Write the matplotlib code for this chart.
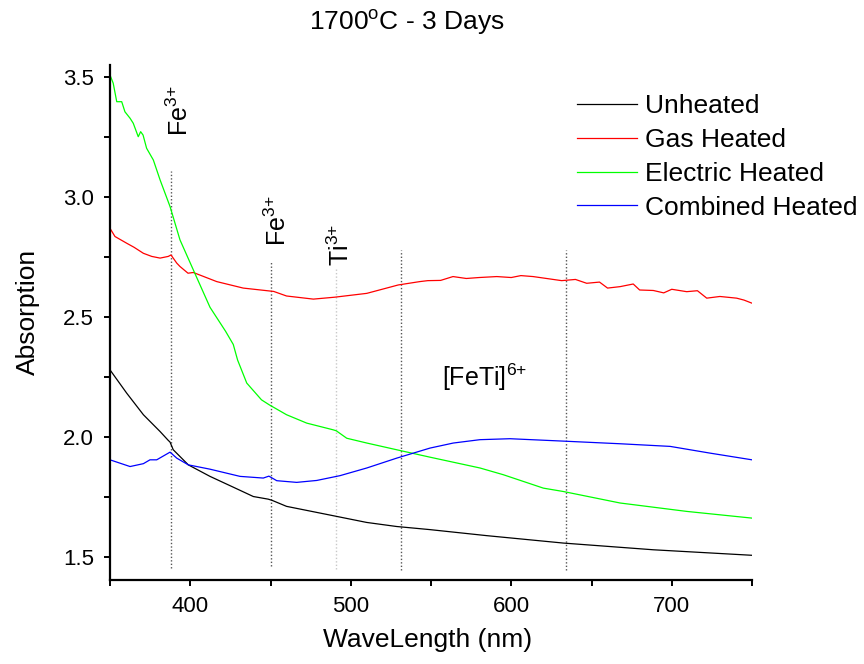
import matplotlib
matplotlib.use("Agg")
import matplotlib.pyplot as plt
from matplotlib.ticker import MultipleLocator

plt.rcParams['font.family'] = ['Liberation Sans', 'DejaVu Sans']
plt.rcParams['mathtext.fontset'] = 'custom'
plt.rcParams['mathtext.rm'] = 'Liberation Sans'
plt.rcParams['mathtext.it'] = 'Liberation Sans'

# Absorption spectra (wavelength in nm, absorption)
unheated_wl = [350, 360.4, 370.8, 381.2, 386.3, 387.4, 389.4, 398.8, 412.3, 426.8,
               439.3, 448.6, 451, 460, 489.1, 509.9, 528.6, 549.4, 584.6, 632.4,
               688.5, 750]
unheated_abs = [2.279, 2.182, 2.092, 2.022, 1.985, 1.978, 1.946, 1.883, 1.835, 1.79,
                1.751, 1.74, 1.735, 1.71, 1.671, 1.643, 1.626, 1.613, 1.588, 1.557,
                1.529, 1.506]

gas_wl = [350, 353.1, 360.4, 365, 370.8, 376, 381.2, 386.3, 388, 391.6, 393.6,
          398.6, 401.9, 416.5, 433, 449.3, 452, 460, 476.7, 490, 510, 529.6,
          543, 548, 556, 563.7, 572, 580, 591, 600, 606, 613.6, 622, 631.4,
          640, 647, 655, 660, 667.8, 676, 680, 688.5, 695, 700, 709.3, 716,
          721.8, 730, 740.4, 745, 750]
gas_abs = [2.869, 2.835, 2.807, 2.79, 2.765, 2.752, 2.745, 2.752, 2.758, 2.724, 2.71,
           2.682, 2.685, 2.647, 2.62, 2.608, 2.606, 2.587, 2.574, 2.582, 2.598, 2.633,
           2.647, 2.651, 2.652, 2.668, 2.66, 2.664, 2.668, 2.664, 2.672, 2.668, 2.66, 2.651,
           2.656, 2.64, 2.645, 2.62, 2.626, 2.637, 2.612, 2.61, 2.6, 2.615, 2.605, 2.609,
           2.578, 2.585, 2.578, 2.57, 2.557]

electric_wl = [350, 352, 354.2, 357.3, 359.3, 362.5, 364.5, 367.6, 369.1, 370.6,
               372.8, 377, 381.2, 387.4, 393.6, 401.9, 412.3, 422, 426.8, 429.5,
               435.2, 444.4, 449.3, 460, 472.6, 489.1, 491, 497.5, 510, 528.6, 549.4,
               580.5, 595, 620, 632.4, 667.8, 709.3, 750]
electric_abs = [3.508, 3.474, 3.397, 3.397, 3.355, 3.328, 3.307, 3.251, 3.272, 3.258,
                3.203, 3.154, 3.071, 2.96, 2.821, 2.696, 2.54, 2.44, 2.385, 2.32,
                2.224, 2.154, 2.133, 2.092, 2.057, 2.029, 2.025, 1.994, 1.974, 1.946,
                1.915, 1.87, 1.842, 1.786, 1.772, 1.724, 1.689, 1.661]

combined_wl = [350, 362.5, 370.8, 374.9, 379.1, 387.4, 391.6, 398.8, 412.3, 431,
               445.5, 449, 453.9, 466.3, 478.8, 493.3, 510, 528.6, 549.4, 563.9,
               580.5, 599.2, 632.4, 667.8, 699, 723.8, 750]
combined_abs = [1.904, 1.876, 1.888, 1.904, 1.904, 1.936, 1.911, 1.883, 1.865, 1.835,
                1.828, 1.836, 1.817, 1.81, 1.818, 1.838, 1.87, 1.911, 1.953, 1.974,
                1.988, 1.992, 1.982, 1.971, 1.96, 1.932, 1.904]

# Assigned absorption bands: position, top and bottom of the marker line, colour
band_wl = [388, 450, 491, 531, 634]
band_top = [3.11, 2.73, 2.70, 2.78, 2.78]
band_bottom = [1.455, 1.46, 1.45, 1.446, 1.446]
band_color = ['#555555', '#555555', '#c8c8c8', '#555555', '#555555']

series = [
    ('Unheated', unheated_wl, unheated_abs, '#000000'),
    ('Gas Heated', gas_wl, gas_abs, '#ff0000'),
    ('Electric Heated', electric_wl, electric_abs, '#00ff00'),
    ('Combined Heated', combined_wl, combined_abs, '#0000ff'),
]

fig = plt.figure(figsize=(8.64, 6.64), dpi=100)
ax = fig.add_axes([110 / 864, 84 / 664, 642 / 864, 515 / 664])

for wl, top, bot, col in zip(band_wl, band_top, band_bottom, band_color):
    ax.plot([wl, wl], [bot, top], linestyle=(0, (1, 1.5)), color=col, linewidth=1.0)

for name, wl, ab, col in series:
    ax.plot(wl, ab, color=col, linewidth=0.9, label=name)

ax.set_xlim(350, 750)
ax.set_ylim(1.403, 3.55)
ax.xaxis.set_minor_locator(MultipleLocator(50))
ax.yaxis.set_minor_locator(MultipleLocator(0.25))
ax.set_xticks([400, 500, 600, 700])
ax.set_yticks([1.5, 2.0, 2.5, 3.0, 3.5])
ax.set_yticklabels(['1.5', '2.0', '2.5', '3.0', '3.5'])
ax.tick_params(which='both', direction='out', length=4.5, width=1.4, labelsize=16)
ax.tick_params(axis='y', which='major', pad=7)
ax.tick_params(axis='x', which='major', pad=7)

for s in ['top', 'right']:
    ax.spines[s].set_visible(False)
for s in ['left', 'bottom']:
    ax.spines[s].set_linewidth(1.6)

# Band labels
ax.text(393.5, 3.36, r'Fe$^{3{+}}$', rotation=90, fontsize=18, ha='center', va='center')
ax.text(454.5, 2.90, r'Fe$^{3{+}}$', rotation=90, fontsize=18, ha='center', va='center')
ax.text(493.5, 2.80, r'Ti$^{3{+}}$', rotation=90, fontsize=18, ha='center', va='center')
ax.text(557, 2.25, r'[FeTi]$^{6{+}}$', fontsize=18, ha='left', va='center')

leg = ax.legend(loc='upper left', bbox_to_anchor=(0.727, 0.943), frameon=False,
                fontsize=19, handlelength=2.3, handletextpad=0.3, labelspacing=0.37,
                borderpad=0, borderaxespad=0)

fig.text(407 / 864, 1 - 23 / 664, r'1700$^{\mathrm{o}}$C - 3 Days', fontsize=19,
         ha='center', va='center')
fig.text(428 / 864, 1 - 640 / 664, 'WaveLength (nm)', fontsize=19, ha='center', va='center')
fig.text(28 / 864, 1 - 312 / 664, 'Absorption', fontsize=19, ha='center', va='center',
         rotation=90)

fig.savefig('out.png', dpi=100)
